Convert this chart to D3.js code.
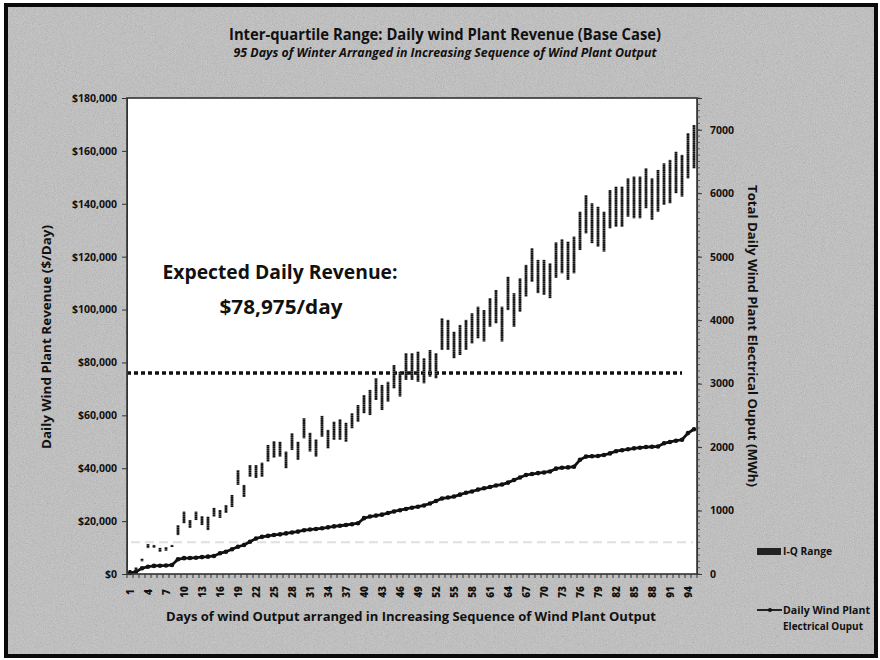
<!DOCTYPE html>
<html><head><meta charset="utf-8">
<script src="https://cdn.jsdelivr.net/npm/d3@7"></script>
<style>html,body{margin:0;padding:0;background:#fff;} svg{display:block;}</style>
</head><body>
<svg id="chart" width="880" height="660"></svg>
<script>
// ---------- data ----------
const days = d3.range(1, 96); // category index 1..95
const iqrLow = [300,1000,4800,9800,9900,8400,8800,10200,14700,19200,
  17400,20400,18500,16600,21700,21200,23100,25300,33700,29100,
  36800,36300,36800,42500,44000,44400,40000,46900,43100,51300,
  46300,44400,51900,47500,50700,50700,50000,55100,57600,60800,
  60100,65800,62000,65200,70200,67100,73400,73400,72700,72100,
  74600,74000,84700,84700,81600,82800,84700,87200,89100,87900,
  93500,94800,87900,99800,93500,99200,104900,110500,106200,105500,
  104300,112000,113700,111200,113700,122500,128800,125100,123800,121900,
  130700,131300,131300,135100,134500,134500,138300,133900,137000,139600,
  140200,144000,142700,149600,153400];
const iqrHigh = [1500,2500,5800,11300,11000,9900,10200,11000,18500,23600,
  20400,23600,21900,21700,25000,24200,26100,29900,39300,33700,
  41200,41200,42100,48800,50200,50000,46300,53200,50000,58900,
  53400,50900,59800,54500,57600,58500,57200,60800,63900,67700,
  69600,74000,71500,72700,79000,76500,83500,83500,84100,81600,
  84700,83500,96700,96100,91600,94200,96100,98600,101100,99800,
  104300,107400,101100,112400,106200,111800,116900,123200,118800,118800,
  117500,125400,126600,125700,127600,137000,143300,140200,138900,137000,
  145200,146500,146500,149600,150300,150300,153400,149600,152800,155300,
  156600,159700,158500,166700,169800];
const dailyOutput = [15,36,90,115,128,131,133,142,232,250,
  252,257,266,273,284,326,351,389,430,457,
  509,560,585,600,615,625,640,655,668,690,
  700,710,720,735,750,760,772,785,800,880,
  905,920,935,960,985,1005,1025,1045,1060,1080,
  1110,1150,1190,1205,1220,1250,1280,1300,1330,1350,
  1370,1395,1410,1440,1480,1520,1560,1575,1590,1600,
  1615,1660,1675,1680,1690,1800,1850,1855,1860,1875,
  1900,1935,1950,1965,1980,1990,2000,2005,2010,2060,
  2080,2100,2115,2220,2280];
const expectedRevenue = 76000;          // dashed line level (as drawn)
const expectedLineDays = [1, 93];        // span of the dashed line
const faintLevel = 12000;                // faint grey reference line
const leftTicks = [0,20000,40000,60000,80000,100000,120000,140000,160000,180000];
const rightTicks = [0,1000,2000,3000,4000,5000,6000,7000];
const xTickDays = [1,4,7,10,13,16,19,22,25,28,31,34,37,40,43,46,49,52,55,58,61,64,67,70,73,76,79,82,85,88,91,94];

// ---------- layout ----------
const W = 880, H = 660;
const P = {l:127, r:697, t:98, b:574};
const FONT = "'Open Sans', 'DejaVu Sans', sans-serif";
const svg = d3.select("#chart");

// background with grain
const defs = svg.append("defs");
const flt = defs.append("filter").attr("id","grain").attr("x",0).attr("y",0).attr("width","100%").attr("height","100%");
flt.append("feTurbulence").attr("type","fractalNoise").attr("baseFrequency",1.1).attr("numOctaves",2).attr("seed",7).attr("result","n");
flt.append("feColorMatrix").attr("in","n").attr("type","matrix")
  .attr("values","0.33 0.33 0.33 0 0  0.33 0.33 0.33 0 0  0.33 0.33 0.33 0 0  0 0 0 0 1");
// bar stripe texture
const pat = defs.append("pattern").attr("id","stripe").attr("patternUnits","userSpaceOnUse")
  .attr("width",4).attr("height",2.2);
pat.append("rect").attr("width",4).attr("height",2.2).attr("fill","#555");
pat.append("rect").attr("width",4).attr("height",1.4).attr("fill","#0d0d0d");

svg.append("rect").attr("x",0).attr("y",0).attr("width",W).attr("height",H).attr("fill","#fff");
svg.append("rect").attr("x",6).attr("y",5).attr("width",870).attr("height",651).attr("fill","#c2c2c2");
svg.append("rect").attr("x",6).attr("y",5).attr("width",870).attr("height",651).attr("filter","url(#grain)").attr("opacity",0.38);
svg.append("rect").attr("x",6).attr("y",5).attr("width",870).attr("height",651)
  .attr("fill","none").attr("stroke","#0a0a0a").attr("stroke-width",4);

// scales
const x = d3.scaleBand().domain(days).range([P.l, P.r]).padding(0);
const yL = d3.scaleLinear().domain([0,180000]).range([P.b, P.t]);
const yR = d3.scaleLinear().domain([0,7500]).range([P.b, P.t]);
const cx = d => x(d) + x.bandwidth()/2;

// plot area
svg.append("rect").attr("x",P.l).attr("y",P.t).attr("width",P.r-P.l).attr("height",P.b-P.t)
  .attr("fill","#fff");

// faint grey reference line
svg.append("line").attr("x1",P.l+4).attr("x2",P.r-4)
  .attr("y1",yL(faintLevel)).attr("y2",yL(faintLevel))
  .attr("stroke","#e0e0e0").attr("stroke-width",2).attr("stroke-dasharray","9,5");

// expected revenue dashed line
svg.append("line").attr("x1",x(expectedLineDays[0])).attr("x2",cx(expectedLineDays[1]))
  .attr("y1",yL(expectedRevenue)).attr("y2",yL(expectedRevenue))
  .attr("stroke","#111").attr("stroke-width",3.5).attr("stroke-dasharray","4,3");

// IQR bars
svg.append("g").selectAll("rect").data(days).join("rect")
  .attr("x", d => cx(d) - 1.4)
  .attr("width", 2.8)
  .attr("y", (d,i) => yL(iqrHigh[i]))
  .attr("height", (d,i) => Math.max(1.5, yL(iqrLow[i]) - yL(iqrHigh[i])))
  .attr("fill", "url(#stripe)");

// output line
const lineGen = d3.line().x((d,i) => cx(days[i])).y(d => yR(d));
svg.append("path").datum(dailyOutput).attr("d", lineGen)
  .attr("fill","none").attr("stroke","#111").attr("stroke-width",2.8);
svg.append("g").selectAll("circle").data(dailyOutput).join("circle")
  .attr("cx",(d,i)=>cx(days[i])).attr("cy",d=>yR(d)).attr("r",2.3).attr("fill","#111");

// plot border
svg.append("rect").attr("x",P.l).attr("y",P.t).attr("width",P.r-P.l).attr("height",P.b-P.t)
  .attr("fill","none").attr("stroke","#333").attr("stroke-width",1.6);

// left axis
const gL = svg.append("g").attr("transform",`translate(${P.l},0)`)
  .call(d3.axisLeft(yL).tickValues(leftTicks).tickSize(5).tickPadding(5)
    .tickFormat(d => "$" + d3.format(",")(d)));
gL.select(".domain").attr("stroke","#333");
gL.selectAll("line").attr("stroke","#333");
gL.selectAll("text").attr("font-family",FONT).attr("font-weight","bold").attr("font-size",10.5).attr("fill","#111");

// right axis
const gR = svg.append("g").attr("transform",`translate(${P.r},0)`)
  .call(d3.axisRight(yR).tickValues(rightTicks).tickSize(5).tickPadding(8).tickFormat(d3.format("d")));
gR.select(".domain").attr("stroke","#333");
gR.selectAll("line").attr("stroke","#333");
gR.selectAll("text").attr("font-family",FONT).attr("font-weight","bold").attr("font-size",10.5).attr("fill","#111");
// right minor ticks
svg.append("g").selectAll("line").data(d3.range(0, 7501, 100)).join("line")
  .attr("x1",P.r).attr("x2",P.r+3).attr("y1",d=>yR(d)).attr("y2",d=>yR(d))
  .attr("stroke","#444").attr("stroke-width",0.8);

// bottom axis: category tick marks at band edges
const edges = days.map(d => x(d)).concat([P.r]);
svg.append("g").selectAll("line").data(edges).join("line")
  .attr("x1",d=>d).attr("x2",d=>d).attr("y1",P.b).attr("y2",P.b+4)
  .attr("stroke","#333").attr("stroke-width",1);
const gB = svg.append("g").attr("transform",`translate(0,${P.b})`)
  .call(d3.axisBottom(x).tickValues(xTickDays).tickSize(0).tickPadding(0));
gB.select(".domain").remove();
gB.selectAll("text")
  .attr("font-family",FONT).attr("font-weight","800").attr("font-size",10).attr("fill","#111")
  .attr("transform","translate(0,18) rotate(-90)").attr("dy","0.35em").attr("text-anchor","middle").attr("y",0);

// titles
function txt(s, xx, yy, size, opts={}) {
  const t = svg.append("text").attr("x",xx).attr("y",yy).text(s)
    .attr("font-family",FONT).attr("font-weight",opts.weight||"bold").attr("font-size",size)
    .attr("fill",opts.fill||"#111").attr("text-anchor",opts.anchor||"middle");
  if (opts.italic) t.attr("font-style","italic");
  if (opts.len) t.attr("textLength",opts.len).attr("lengthAdjust","spacingAndGlyphs");
  if (opts.rot) t.attr("transform",`rotate(${opts.rot},${xx},${yy})`);
  return t;
}
txt("Inter-quartile Range: Daily wind Plant Revenue (Base Case)", 445, 40, 15.5, {len:432});
txt("95 Days of Winter Arranged in Increasing Sequence of Wind Plant Output", 445, 57, 11.5, {italic:true, len:423});
txt("Days of wind Output arranged in Increasing Sequence of Wind Plant Output", 411, 621, 12.5, {len:490});
txt("Daily Wind Plant Revenue ($/Day)", 51, 337, 12.5, {len:224, rot:-90});
txt("Total Daily Wind Plant Electrical Ouput (MWh)", 748, 336, 12.5, {len:302, rot:90});

// annotation
txt("Expected Daily Revenue:", 280, 279, 20, {len:235});
txt("$78,975/day", 281, 314, 20, {len:123});

// legend
svg.append("rect").attr("x",757).attr("y",548).attr("width",24).attr("height",7).attr("fill","#222");
txt("I-Q Range", 783, 555, 10, {anchor:"start", len:49});
svg.append("line").attr("x1",757).attr("x2",782).attr("y1",610).attr("y2",610).attr("stroke","#111").attr("stroke-width",1.8);
svg.append("circle").attr("cx",770).attr("cy",610).attr("r",2).attr("fill","#111");
txt("Daily Wind Plant", 783, 614, 10.5, {anchor:"start", len:87});
txt("Electrical Ouput", 783, 630, 10.5, {anchor:"start", len:80});
</script>
</body></html>
